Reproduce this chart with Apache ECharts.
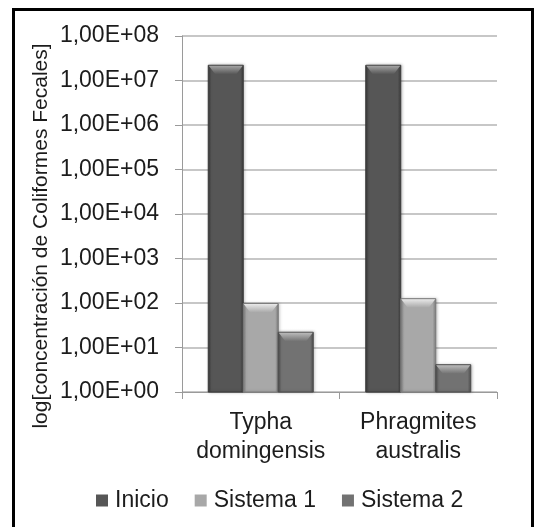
<!DOCTYPE html>
<html>
<head>
<meta charset="utf-8">
<script src="https://cdn.jsdelivr.net/npm/echarts@6/dist/echarts.min.js"></script>
<style>
  html, body { margin: 0; padding: 0; background: #fff; }
  #chart { width: 534px; height: 527px; }
</style>
</head>
<body>
<div id="chart"></div>
<script>
// Fecal coliform concentration (log scale) per plant species and treatment stage
const categories = ['Typha\ndomingensis', 'Phragmites\naustralis'];
const seriesNames = ['Inicio', 'Sistema 1', 'Sistema 2'];
const inicio = [2.2e7, 2.2e7];
const sistema1 = [97, 125];
const sistema2 = [22, 4.1];
const yTitle = 'log[concentración de Coliformes Fecales]';

const FONT = '"Liberation Sans", Arial, sans-serif';
const TEXT = '#1c1c1c';

// bevelled bar shades: [edge, face, highlight]
const shades = [
  ['#3a3a3a', '#565656', '#a4a4a4'],
  ['#7a7a7a', '#a8a8a8', '#e8e8e8'],
  ['#4c4c4c', '#727272', '#bababa']
];
const BAR_W = 35;

function bevelBar(seriesIdx) {
  const sh = shades[seriesIdx];
  return function (params, api) {
    const cat = api.value(0);
    const val = api.value(1);
    const top = api.coord([cat, val]);
    const base = api.coord([cat, 1]);
    const cx = top[0] + (seriesIdx - 1) * BAR_W;
    const x0 = cx - BAR_W / 2, x1 = cx + BAR_W / 2;
    const y0 = top[1], y1 = base[1];
    const h = y1 - y0;
    const bev = Math.min(9, h / 2);
    const side = 3;
    return {
      type: 'group',
      children: [
        { type: 'rect', shape: { x: x0, y: y0, width: BAR_W, height: h },
          style: { fill: new echarts.graphic.LinearGradient(0, 0, 1, 0, [
            { offset: 0, color: sh[0] }, { offset: 0.1, color: sh[1] },
            { offset: 0.9, color: sh[1] }, { offset: 1, color: sh[0] }]),
            stroke: sh[0], lineWidth: 1,
            shadowBlur: 3, shadowColor: 'rgba(0,0,0,0.25)', shadowOffsetX: 1 } },
        { type: 'polygon', shape: { points: [[x0 + 0.5, y0 + 0.5], [x1 - 0.5, y0 + 0.5], [x1 - side - 4, y0 + bev], [x0 + side + 4, y0 + bev]] },
          style: { fill: new echarts.graphic.LinearGradient(0, 0, 0, 1, [
            { offset: 0, color: sh[2] }, { offset: 1, color: sh[1] }]) } }
      ]
    };
  };
}

const valueSets = [inicio, sistema1, sistema2];
const series = valueSets.map(function (vals, s) {
  return {
    name: seriesNames[s],
    type: 'custom',
    renderItem: bevelBar(s),
    itemStyle: { color: shades[s][1] },
    encode: { x: 0, y: 1 },
    data: vals.map(function (v, i) { return [i, v]; }),
    z: 3
  };
});

const chart = echarts.init(document.getElementById('chart'));
chart.setOption({
  animation: false,
  backgroundColor: '#ffffff',
  textStyle: { fontFamily: FONT },
  grid: { left: 182, right: 37, top: 36, bottom: 135 },
  legend: {
    data: seriesNames,
    left: 91, top: 484,
    icon: 'rect', itemWidth: 12, itemHeight: 12, itemGap: 26,
    textStyle: { fontFamily: FONT, fontSize: 23, color: TEXT, padding: [0, 0, 0, 2] }
  },
  xAxis: {
    type: 'category',
    data: categories,
    axisLine: { lineStyle: { color: '#9a9a9a', width: 1 } },
    axisTick: { show: true, length: 7, lineStyle: { color: '#9a9a9a' } },
    axisLabel: { interval: 0, fontFamily: FONT, fontSize: 23, color: TEXT, lineHeight: 29, margin: 16 },
    splitLine: { show: false }
  },
  yAxis: {
    type: 'log',
    logBase: 10,
    min: 1,
    max: 1e8,
    splitNumber: 8,
    axisLine: { show: true, lineStyle: { color: '#9a9a9a', width: 1 } },
    axisTick: { show: true, length: 7, lineStyle: { color: '#9a9a9a' } },
    splitLine: { show: true, lineStyle: { color: '#b4b4b4', width: 1.5 } },
    axisLabel: {
      fontFamily: FONT, fontSize: 23, color: TEXT, margin: 23,
      formatter: function (v) {
        const e = Math.round(Math.log10(v));
        return '1,00E+' + (e < 10 ? '0' : '') + e;
      }
    }
  },
  graphic: [
    { type: 'text', x: 41, y: 236, rotation: Math.PI / 2,
      style: { text: yTitle, font: '21px ' + FONT, fill: TEXT, align: 'center', verticalAlign: 'middle' } },
    { type: 'rect', shape: { x: 13.5, y: 9.5, width: 519, height: 540 },
      style: { fill: 'none', stroke: '#000', lineWidth: 3 }, z: 10 }
  ],
  series: series
});
</script>
</body>
</html>
